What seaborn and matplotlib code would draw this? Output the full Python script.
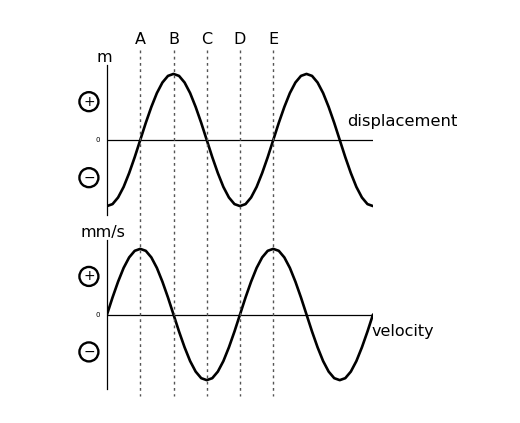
import matplotlib
matplotlib.use("Agg")
import matplotlib.pyplot as plt
import matplotlib.transforms as mtransforms
from matplotlib.lines import Line2D
import seaborn as sns
import pandas as pd

# phase in degrees (two full periods)
phase = list(range(0, 721, 15))
displacement = [-1, -0.97, -0.87, -0.71, -0.5, -0.26, 0, 0.26, 0.5, 0.71, 0.87, 0.97,
                1, 0.97, 0.87, 0.71, 0.5, 0.26, 0, -0.26, -0.5, -0.71, -0.87, -0.97,
                -1, -0.97, -0.87, -0.71, -0.5, -0.26, 0, 0.26, 0.5, 0.71, 0.87, 0.97,
                1, 0.97, 0.87, 0.71, 0.5, 0.26, 0, -0.26, -0.5, -0.71, -0.87, -0.97, -1]
velocity = [0, 0.26, 0.5, 0.71, 0.87, 0.97, 1, 0.97, 0.87, 0.71, 0.5, 0.26,
            0, -0.26, -0.5, -0.71, -0.87, -0.97, -1, -0.97, -0.87, -0.71, -0.5, -0.26,
            0, 0.26, 0.5, 0.71, 0.87, 0.97, 1, 0.97, 0.87, 0.71, 0.5, 0.26,
            0, -0.26, -0.5, -0.71, -0.87, -0.97, -1, -0.97, -0.87, -0.71, -0.5, -0.26, 0]
marker_labels = ["A", "B", "C", "D", "E"]
marker_phase = [90, 180, 270, 360, 450]
series_names = ["displacement", "velocity"]
unit_labels = ["m", "mm/s"]

sns.set_style("white")
plt.rcParams['font.family'] = ['DejaVu Sans']
plt.rcParams['text.color'] = 'black'

W, H = 520, 423
fig = plt.figure(figsize=(W / 100, H / 100), dpi=100)

def fx(px):
    return px / W

def fy(py):
    return 1 - py / H

ax_top = fig.add_axes([fx(107), fy(215), fx(373) - fx(107), fy(65) - fy(215)])
ax_bot = fig.add_axes([fx(107), fy(389), fx(373) - fx(107), fy(240) - fy(389)])

df = pd.DataFrame({"phase": phase, "displacement": displacement, "velocity": velocity})

for ax, col, unit in zip([ax_top, ax_bot], series_names, unit_labels):
    sns.lineplot(data=df, x="phase", y=col, ax=ax, color="black", lw=1.9)
    ax.set_xlim(0, 720)
    ax.set_ylim(-1.135, 1.135)
    ax.axhline(0, color="black", lw=0.9)
    for s in ["top", "right", "bottom"]:
        ax.spines[s].set_visible(False)
    ax.spines["left"].set_color("black")
    ax.spines["left"].set_linewidth(0.9)
    ax.set_xticks([])
    ax.set_yticks([])
    ax.set_xlabel("")
    ax.set_ylabel("")
    ax.patch.set_alpha(0)
    tr = mtransforms.blended_transform_factory(ax.transAxes, ax.transData)
    ax.text(-0.035, 0, "0", transform=tr, ha="center", va="center", fontsize=5, color="black")
    ax.text(-0.068, 0.58, "+", transform=tr, ha="center", va="center", fontsize=10, color="black",
            bbox=dict(boxstyle="circle,pad=0.18", fc="none", ec="black", lw=1.7))
    ax.text(-0.068, -0.57, "\u2212", transform=tr, ha="center", va="center", fontsize=10, color="black",
            bbox=dict(boxstyle="circle,pad=0.18", fc="none", ec="black", lw=1.7))

fig.text(fx(104), fy(57), unit_labels[0], ha="center", va="center", fontsize=11.5, color="black")
fig.text(fx(103), fy(232), unit_labels[1], ha="center", va="center", fontsize=11.5, color="black")
fig.text(fx(347), fy(121), series_names[0], ha="left", va="center", fontsize=11.8, color="black")
fig.text(fx(372), fy(331), series_names[1], ha="left", va="center", fontsize=11.5, color="black")

blend = mtransforms.blended_transform_factory(ax_top.transData, fig.transFigure)
for lab, p in zip(marker_labels, marker_phase):
    fig.add_artist(Line2D([p, p], [fy(50), fy(396)], transform=blend, color="#555555",
                          lw=1.0, linestyle=(0, (2, 2.5))))
    fig.text(p, fy(40), lab, transform=blend, ha="center", va="center", fontsize=11.5, color="black")

fig.savefig("out.png", dpi=100)
